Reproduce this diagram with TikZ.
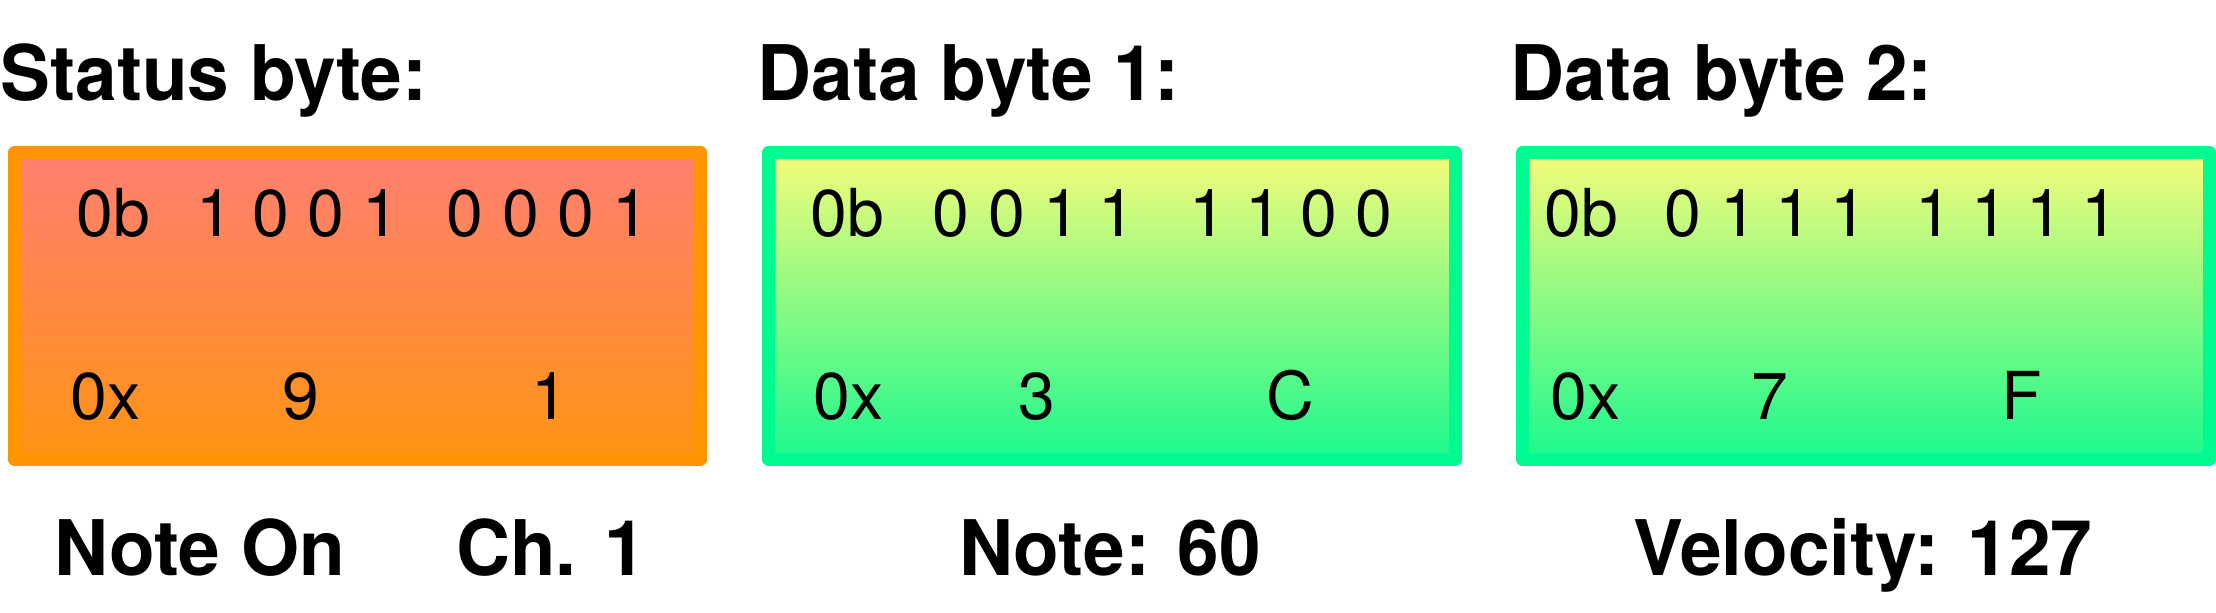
\documentclass[tikz,border=0pt]{standalone}
\usepackage{fontspec}
\setmainfont{TeX Gyre Heros}
\newfontfamily\headfont{TeX Gyre Heros}[FakeStretch=0.975]
\definecolor{statusline}{HTML}{FF9500}
\definecolor{statustop}{HTML}{FF7F72}
\definecolor{statusbot}{HTML}{FF9412}
\definecolor{dataline}{HTML}{00F990}
\definecolor{datatop}{HTML}{F5FB7A}
\definecolor{databot}{HTML}{1CF98E}

\begin{document}
\begin{tikzpicture}[x=0.01cm,y=-0.01cm,
    bytebox/.style={draw,line width=3.7pt,line join=round,minimum width=6.86cm,minimum height=3.07cm,inner sep=0pt},
    statusbox/.style={bytebox,draw=statusline,top color=statustop,bottom color=statusbot},
    databox/.style={bytebox,draw=dataline,top color=datatop,bottom color=databot},
    bytetitle/.style={anchor=base west,inner sep=0pt,font=\headfont\fontsize{21.8}{24}\selectfont\bfseries},
    meaning/.style={anchor=base,inner sep=0pt,font=\headfont\fontsize{21.8}{24}\selectfont\bfseries},
    bits/.style={anchor=base,inner sep=0pt,font=\fontsize{18.8}{22}\selectfont},
    radix/.style={bits,anchor=base west}]

        \useasboundingbox (0,0) rectangle (2216,612);

        \node[bytetitle] (statustitle) at (0,100) {Status byte:};
        \node[bytetitle] (data1title) at (757,100) {Data byte 1:};
        \node[bytetitle] (data2title) at (1510,100) {Data byte 2:};

        \node[statusbox] (status) at (357.5,306) {};
        \node[databox] (data1) at (1112,306) {};
        \node[databox] (data2) at (1866,306) {};

        \node[radix] (statusbin) at (76,236) {0b};
        \node[bits] (statushi) at (298,236) {1 0 0 1};
        \node[bits] (statuslo) at (548,236) {0 0 0 1};
        \node[radix] (statushex) at (70,419) {0x};
        \node[bits] (statusnibhi) at (301,419) {9};
        \node[bits] (statusniblo) at (550,419) {1};

        \node[radix] (data1bin) at (810,236) {0b};
        \node[bits] (data1hi) at (1034,236) {0 0 1 1};
        \node[bits] (data1lo) at (1291,236) {1 1 0 0};
        \node[radix] (data1hex) at (813,419) {0x};
        \node[bits] (data1nibhi) at (1037,419) {3};
        \node[bits] (data1niblo) at (1290,419) {C};

        \node[radix] (data2bin) at (1544,236) {0b};
        \node[bits] (data2hi) at (1766,236) {0 1 1 1};
        \node[bits] (data2lo) at (2017,236) {1 1 1 1};
        \node[radix] (data2hex) at (1550,419) {0x};
        \node[bits] (data2nibhi) at (1770,419) {7};
        \node[bits] (data2niblo) at (2022,419) {F};

        \node[meaning] (noteon) at (200,575) {Note On};
        \node[meaning] (channel) at (551,575) {Ch. 1};
        \node[meaning] (note) at (1110,575) {Note: 60};
        \node[meaning] (velocity) at (1863,575) {Velocity: 127};

\end{tikzpicture}
\end{document}
